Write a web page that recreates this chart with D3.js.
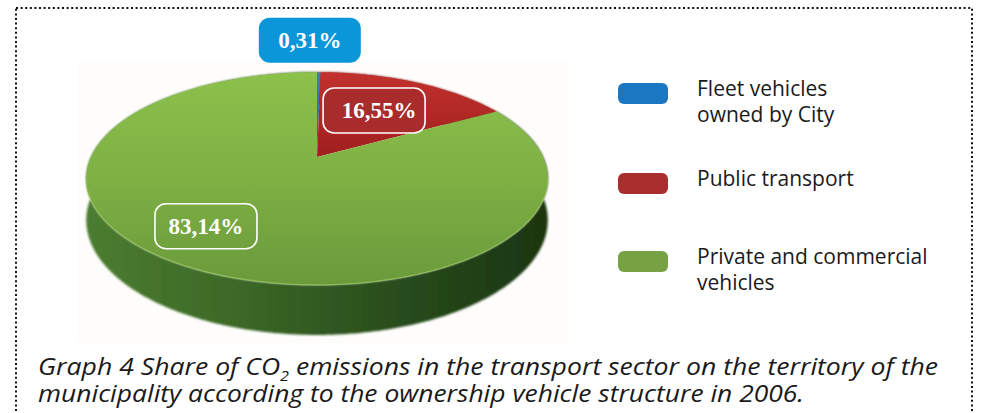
<!DOCTYPE html>
<html>
<head>
<meta charset="utf-8">
<script src="https://cdn.jsdelivr.net/npm/d3@7"></script>
<style>
  html, body { margin: 0; padding: 0; background: #fff; }
  svg { display: block; }
</style>
</head>
<body>
<svg id="chart" width="981" height="413"></svg>
<script>
// 3D pie — share of CO2 emissions in transport sector by vehicle ownership, 2006.

const categories = ['Fleet vehicles owned by City', 'Public transport', 'Private and commercial vehicles'];
const shares = [0.31, 16.55, 83.14];
const valueLabels = ['0,31%', '16,55%', '83,14%'];
const legendLines = [['Fleet vehicles', 'owned by City'], ['Public transport'], ['Private and commercial', 'vehicles']];
const captionLines = [
  ['Graph 4 Share of CO', '2', ' emissions in the transport sector on the territory of the'],
  ['municipality according to the ownership vehicle structure in 2006.']
];

const LEGEND_COLORS = ['#1a78c2', '#a92e2d', '#76a244'];
const BOX_COLORS = ['#0a96d9', '#a92b2b', 'none'];
const INK = '#1a1a1a';

// projection of the pie disc (perspective tilt)
const CX = 317, CY = 157, RX = 226, RY = 102, K = 0.202, DEPTH = 40;
const sx = d3.scaleLinear().domain([-1, 1]).range([CX - RX, CX + RX]);
const sy = d3.scaleLinear().domain([-1, 1]).range([CY - RY, CY + RY]);

function proj(theta, r, drop) {
  const u = r * Math.sin(theta), v = -r * Math.cos(theta);
  const w = 1 - K * v;
  return [sx(u / w), sy(v / w) + (drop || 0) / w];
}
function arcPts(a0, a1, drop) {
  const n = Math.max(2, Math.ceil(Math.abs(a1 - a0) / 0.01));
  return d3.range(n + 1).map(i => proj(a0 + (a1 - a0) * i / n, 1, drop));
}

const svg = d3.select('#chart');
const defs = svg.append('defs');

function grad(id, attrs, stops) {
  const g = defs.append('linearGradient').attr('id', id).attr('gradientUnits', 'userSpaceOnUse');
  Object.entries(attrs).forEach(([k, v]) => g.attr(k, v));
  stops.forEach(([o, c]) => g.append('stop').attr('offset', o).attr('stop-color', c));
}
const topY = proj(0, 1)[1], botY = proj(Math.PI, 1)[1];
grad('g-top', { x1: 0, x2: 0, y1: topY, y2: botY }, [[0, '#8cc14b'], [0.5, '#7eb044'], [1, '#6b9a3b']]);
grad('r-top', { x1: 0, x2: 0, y1: topY, y2: CY }, [[0, '#c2312d'], [1, '#9f1f1f']]);
grad('b-top', { x1: 0, x2: 0, y1: topY, y2: CY }, [[0, '#3f7cc4'], [1, '#2c5f9f']]);
grad('g-side', { x1: CX - RX, x2: CX + RX, y1: 0, y2: 0 },
  [[0, '#4b7c30'], [0.3, '#3d6a27'], [0.55, '#2f5620'], [0.8, '#234418'], [1, '#1b3510']]);
const TOP_FILL = ['url(#b-top)', 'url(#r-top)', 'url(#g-top)'];

defs.append('filter').attr('id', 'soft').attr('x', -0.1).attr('y', -0.1).attr('width', 1.2).attr('height', 1.3)
  .append('feGaussianBlur').attr('stdDeviation', 1.2);

// faint photo backdrop behind the pie
svg.append('rect').attr('x', 78).attr('y', 60).attr('width', 490).attr('height', 283).attr('fill', '#fefdfb');

// dotted frame
svg.append('rect').attr('x', 16).attr('y', 8).attr('width', 956).attr('height', 430)
  .attr('fill', 'none').attr('stroke', '#111').attr('stroke-width', 2)
  .attr('stroke-dasharray', '2 2.6');

const pie = d3.pie().sort(null).value(d => d);
const arcs = pie(shares);

const line = d3.line();
const gPie = svg.append('g');

// side walls (only front ones show, the top face hides the rest)
gPie.append('g').attr('filter', 'url(#soft)').selectAll('path').data(arcs).join('path')
  .attr('d', d => line(arcPts(d.startAngle, d.endAngle, 0).concat(arcPts(d.endAngle, d.startAngle, DEPTH))) + 'Z')
  .attr('fill', (d, i) => i === 2 ? 'url(#g-side)' : '#7a1a18');

// top faces
gPie.append('g').selectAll('path').data(arcs).join('path')
  .attr('d', d => line([[CX, CY]].concat(arcPts(d.startAngle, d.endAngle, 0))) + 'Z')
  .attr('fill', (d, i) => TOP_FILL[i]);

// light rim on front edge
gPie.append('path')
  .attr('d', line(arcPts(Math.PI * 0.56, Math.PI * 1.44, 0)))
  .attr('fill', 'none').attr('stroke', '#93c257').attr('stroke-width', 1.2).attr('opacity', 0.8);

// value callouts
const labelLayout = [{ r: 1.0, dx: -9, dy: -32 }, { r: 0.6, dx: -6, dy: 1 }, { r: 0.7, dx: -20, dy: -1 }];
const BW = 102, BH = 45;
const callouts = svg.append('g').selectAll('g').data(arcs).join('g')
  .attr('transform', (d, i) => {
    const L = labelLayout[i];
    const p = proj((d.startAngle + d.endAngle) / 2, L.r, 0);
    return `translate(${p[0] + L.dx},${p[1] + L.dy})`;
  });
callouts.append('rect')
  .attr('x', -BW / 2).attr('y', -BH / 2).attr('width', BW).attr('height', BH).attr('rx', 11)
  .attr('fill', (d, i) => BOX_COLORS[i])
  .attr('stroke', (d, i) => i === 0 ? 'none' : '#fff').attr('stroke-width', 1.6);
callouts.append('text')
  .attr('x', (d, i) => i === 1 ? 5 : 0).attr('y', 8)
  .attr('text-anchor', 'middle').attr('fill', '#fff')
  .style('font-family', '"Liberation Serif", "DejaVu Serif", serif')
  .style('font-weight', '700').style('font-size', '23px')
  .text((d, i) => valueLabels[i]);

// legend
const legendTop = [83, 173, 251];
const legend = svg.append('g').selectAll('g').data(categories).join('g')
  .attr('transform', (d, i) => `translate(618,${legendTop[i]})`);
legend.append('rect').attr('width', 50).attr('height', 21).attr('rx', 6)
  .attr('fill', (d, i) => LEGEND_COLORS[i]);
legend.append('text')
  .attr('fill', INK).style('font-family', '"Open Sans", "Noto Sans", sans-serif').style('font-size', '21px')
  .selectAll('tspan').data((d, i) => legendLines[i]).join('tspan')
  .attr('x', 79).attr('y', (d, j) => 13 + j * 26).text(d => d);

// caption: one text block, one tspan per line
const capWidths = [900, 766];
const caption = svg.append('text')
  .attr('fill', INK)
  .style('font-family', '"Open Sans", "Noto Sans", sans-serif')
  .style('font-style', 'italic').style('font-size', '23px');
captionLines.forEach((parts, i) => {
  const ln = caption.append('tspan')
    .attr('x', 38).attr('y', 375 + i * 27)
    .attr('textLength', capWidths[i]).attr('lengthAdjust', 'spacingAndGlyphs');
  parts.forEach((s, j) => {
    const sp = ln.append('tspan').text(s);
    if (parts.length > 1 && j === 1) sp.style('font-size', '14px').attr('dy', 6);
    if (parts.length > 1 && j === 2) sp.attr('dy', -6);
  });
});
</script>
</body>
</html>
